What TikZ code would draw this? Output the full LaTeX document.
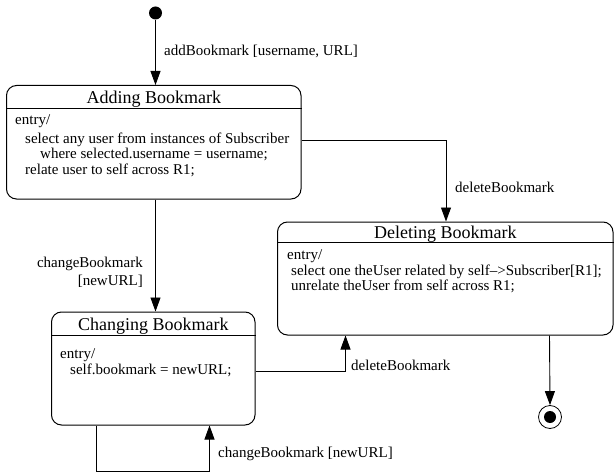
\documentclass[tikz,border=0pt]{standalone}
\usepackage{fontspec}
\setmainfont{Liberation Serif}
\usetikzlibrary{arrows.meta}
\begin{document}
\begin{tikzpicture}[x=1pt,y=-1pt,
  statebox/.style={draw, line width=1pt, rounded corners=10pt, inner sep=0pt},
  sepline/.style={line width=1pt},
  arr/.style={-{Triangle[length=14pt,width=10pt]}, line width=0.9pt},
  lbl/.style={font=\fontsize{15}{18}\selectfont, inner sep=0pt, anchor=base west},
  txt/.style={font=\fontsize{15}{18}\selectfont, inner sep=0pt, anchor=base west},
  ttl/.style={font=\fontsize{18}{21}\selectfont, inner sep=0pt, anchor=base}]
\useasboundingbox (0,0) rectangle (615,473);

% states
\node[statebox, minimum width=294.5pt, minimum height=113.5pt] (add) at (153.75,142.25) {};
\node[statebox, minimum width=335.5pt, minimum height=113pt] (del) at (445.25,278.5) {};
\node[statebox, minimum width=203.5pt, minimum height=113pt] (chg) at (153.25,368.5) {};

% titles and separators
\node[ttl] (addT) at (153.75,104) {Adding Bookmark};
\draw[sepline] (add.west |- 0,108.5) -- (add.east |- 0,108.5);
\node[ttl] (delT) at (445.25,238.5) {Deleting Bookmark};
\draw[sepline] (del.west |- 0,242.5) -- (del.east |- 0,242.5);
\node[ttl] (chgT) at (153.25,330.5) {Changing Bookmark};
\draw[sepline] (chg.west |- 0,335) -- (chg.east |- 0,335);

% bodies
\node[txt] (addE) at (15,125) {entry/};
\node[txt] (addS) at (25,143.5) {select any user from instances of Subscriber};
\node[txt] (addW) at (40,158.5) {where selected.username = username;};
\node[txt] (addR) at (25,174.5) {relate user to self across R1;};

\node[txt] (delE) at (287,259) {entry/};
\node[txt] (delS) at (291,275) {select one theUser related by self\textendash{}>Subscriber[R1];};
\node[txt] (delU) at (291,290) {unrelate theUser from self across R1;};

\node[txt] (chgE) at (60,358) {entry/};
\node[txt] (chgS) at (70,374) {self.bookmark = newURL;};

% pseudo states
\node[circle, fill, minimum size=13pt, inner sep=0pt] (init) at (155.5,13) {};
\node[circle, draw, line width=0.8pt, minimum size=23pt, inner sep=0pt] (fin) at (550,417) {};
\node[circle, fill, minimum size=12pt, inner sep=0pt] (finIn) at (fin.center) {};

% transitions
\draw[arr] (init) -- (init |- add.north);
\draw[arr] (init |- add.south) -- (init |- chg.north);
\draw[arr] ([yshift=2.25pt]add.east) -| ([xshift=0.75pt]del.north);
\draw[arr] ([yshift=-2.5pt]chg.east) -| ([xshift=68.5pt]del.south west);
\draw[arr] ([xshift=272.5pt]del.south west) -- (fin.north);
\draw[arr] ([xshift=45.5pt]chg.south west) -- ++(0,46) -| ([xshift=158.5pt]chg.south west);

% labels
\node[lbl] (lAdd) at (164,56) {addBookmark [username, URL]};
\node[lbl, align=right, anchor=north east] (lChg) at (143,256.5) {changeBookmark\\{}[newURL]};
\node[lbl] (lDel1) at (455,193) {deleteBookmark};
\node[lbl] (lDel2) at (351,370) {deleteBookmark};
\node[lbl] (lLoop) at (218,457) {changeBookmark [newURL]};
\end{tikzpicture}
\end{document}
